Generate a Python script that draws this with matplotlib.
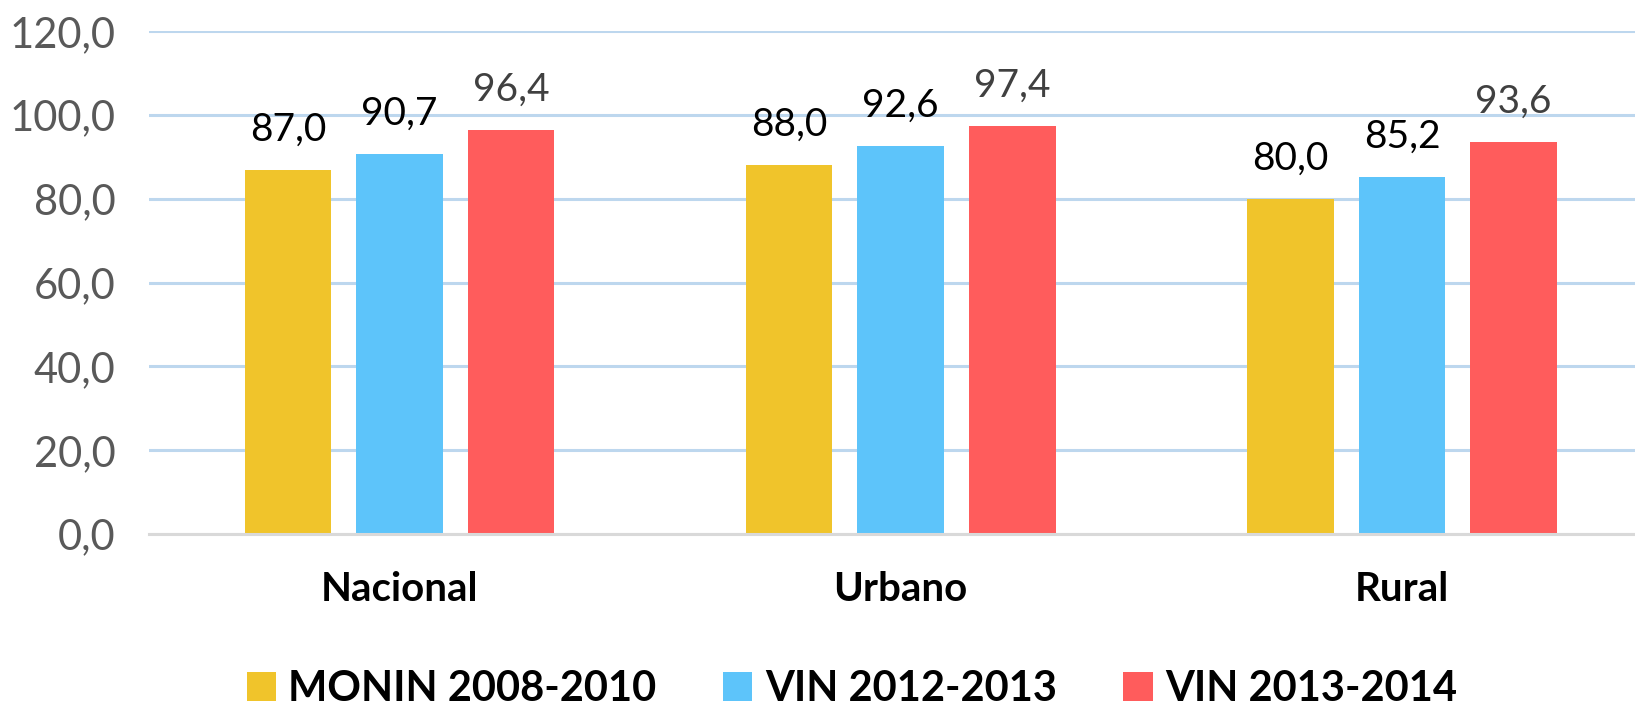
import numpy as np
import matplotlib.pyplot as plt

categories = ["Nacional", "Urbano", "Rural"]
series_names = ["MONIN 2008-2010", "VIN 2012-2013", "VIN 2013-2014"]
monin = [87.0, 88.0, 80.0]
vin_1213 = [90.7, 92.6, 85.2]
vin_1314 = [96.4, 97.4, 93.6]
y_ticks = [0, 20, 40, 60, 80, 100, 120]

colors = ["#F0C42B", "#5DC4FA", "#FF5C5C"]
label_colors = ["#000000", "#000000", "#404040"]

plt.rcParams['font.family'] = ['Lato', 'DejaVu Sans']

fig = plt.figure(figsize=(16.35, 7.07), dpi=100)
ax = fig.add_axes([0.0911, 0.2447, 0.9089, 0.711])

x = np.arange(len(categories))
width = 0.1726
step = 0.2225
handles = []
for i, vals in enumerate([monin, vin_1213, vin_1314]):
    pos = x + (i - 1) * step
    b = ax.bar(pos, vals, width, color=colors[i], label=series_names[i], zorder=3)
    handles.append(b)
    for p, v in zip(pos, vals):
        ax.annotate(("%.1f" % v).replace(".", ","), (p, v), xytext=(0, 16),
                    textcoords="offset points", ha="center", va="bottom",
                    fontsize=28, color=label_colors[i])

ax.set_xlim(-0.5, 2.465)
ax.set_ylim(0, 120)
ax.set_yticks(y_ticks)
ax.set_yticklabels([("%.1f" % t).replace(".", ",") for t in y_ticks],
                   fontsize=30, color="#595959")
ax.set_xticks(x)
ax.set_xticklabels(categories, fontsize=29, fontweight="bold")
ax.tick_params(axis="y", length=0, pad=24)
ax.tick_params(axis="x", length=0, pad=27)
ax.grid(axis="y", color="#BDD7EE", linewidth=2.2, zorder=0)
for s in ["top", "right", "left"]:
    ax.spines[s].set_visible(False)
ax.spines["bottom"].set_color("#D9D9D9")
ax.spines["bottom"].set_linewidth(2.2)
ax.spines["bottom"].set_zorder(4)

fig.legend(handles=handles, loc="center", bbox_to_anchor=(0.521, 0.025),
           ncol=3, frameon=False, prop={"size": 30, "weight": "bold"},
           handlelength=0.7, handleheight=0.7, handletextpad=0.3,
           columnspacing=1.6)

fig.savefig("out.png", dpi=100)
